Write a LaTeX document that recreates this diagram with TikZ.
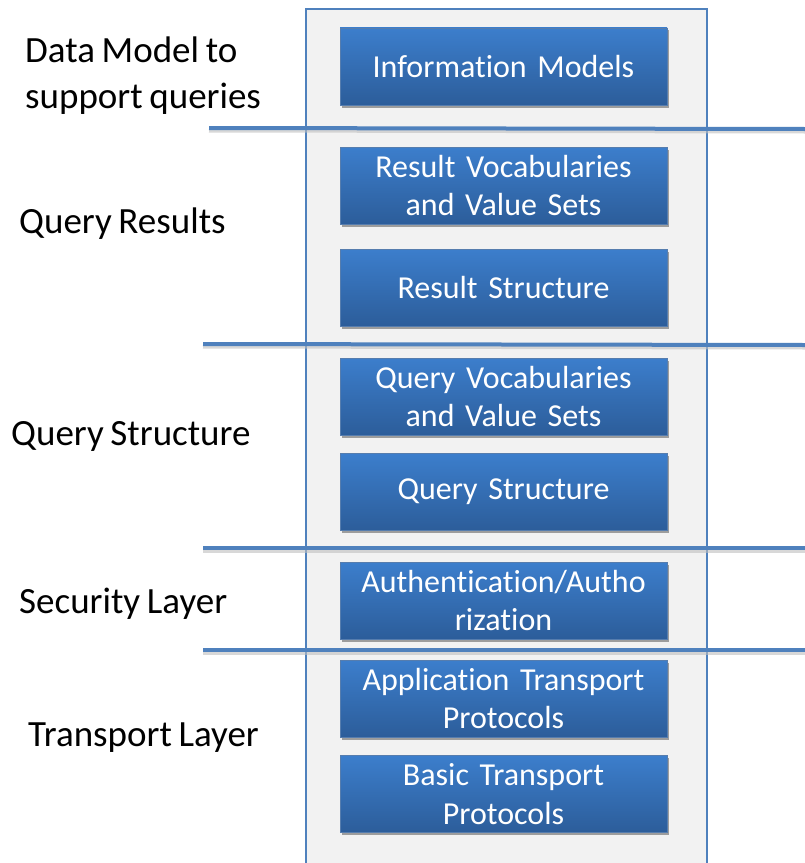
\documentclass[tikz,border=0pt]{standalone}
\usepackage{fontspec}
\setmainfont{Carlito}[Ligatures=NoCommon, WordSpace=0.8]
\usetikzlibrary{shadows}
\definecolor{edgeblue}{HTML}{4F81BD}
\definecolor{boxtop}{HTML}{3C7ECC}
\definecolor{boxbot}{HTML}{2C5D9A}
\definecolor{panel}{HTML}{F2F2F2}
\tikzset{
  layerbox/.style={minimum width=327bp, minimum height=77bp, inner sep=0pt,
    top color=boxtop, bottom color=boxbot, draw=boxbot!80!white, line width=0.6bp,
    text=white, align=center, text width=325bp,
    font=\fontsize{32bp}{38.5bp}\selectfont,
    drop shadow={shadow xshift=1.5bp, shadow yshift=-2.5bp, opacity=0.35, fill=black}},
  layerlabel/.style={anchor=west, inner sep=0pt, align=left, text=black,
    font=\fontsize{37bp}{46bp}\selectfont},
  sepline/.style={draw=edgeblue, line width=4bp},
  sepshadow/.style={draw=black!25, line width=4bp, opacity=0.6}
}
\begin{document}
\begin{tikzpicture}[x=1bp,y=-1bp]
\useasboundingbox (0,0) rectangle (805,863);
\fill[white] (0,0) rectangle (805,863);
% panel
\fill[panel] (306,9) rectangle (707,863);
\draw[edgeblue, line width=1.6bp] (306,863) -- (306,9) -- (707,9) -- (707,863);
% separators
\coordinate (s1a) at (209,128); \coordinate (s1b) at (805,129);
\coordinate (s2a) at (203,344); \coordinate (s2b) at (805,345);
\coordinate (s3a) at (203,548); \coordinate (s3b) at (805,548);
\coordinate (s4a) at (203,650); \coordinate (s4b) at (805,650);
\draw[sepshadow] ([yshift=-2.5bp]s1a) -- ([yshift=-2.5bp]s1b);
\draw[sepshadow] ([yshift=-2.5bp]s2a) -- ([yshift=-2.5bp]s2b);
\draw[sepshadow] ([yshift=-2.5bp]s3a) -- ([yshift=-2.5bp]s3b);
\draw[sepshadow] ([yshift=-2.5bp]s4a) -- ([yshift=-2.5bp]s4b);
\draw[sepline] (s1a) -- (s1b);
\draw[sepline] (s2a) -- (s2b);
\draw[sepline] (s3a) -- (s3b);
\draw[sepline] (s4a) -- (s4b);
% boxes
\node[layerbox] (b1) at (503.5,66.5) {Information Models};
\node[layerbox] (b2) at (503.5,185.5) {Result Vocabularies\\and Value Sets};
\node[layerbox] (b3) at (503.5,287.5) {Result Structure};
\node[layerbox] (b4) at (503.5,396.5) {Query Vocabularies\\and Value Sets};
\node[layerbox] (b5) at (503.5,492) {Query Structure};
\node[layerbox] (b6) at (503.5,600.5) {Authentication/Autho\\rization};
\node[layerbox] (b7) at (503.5,698.5) {Application Transport\\Protocols};
\node[layerbox] (b8) at (503.5,794) {Basic Transport\\Protocols};
% labels
\node[layerlabel] (l1) at (25,76) {Data Model to\\support queries};
\node[layerlabel] (l2) at (19,224) {Query Results};
\node[layerlabel] (l3) at (11,436) {Query Structure};
\node[layerlabel] (l4) at (19,604) {Security Layer};
\node[layerlabel] (l5) at (28,738) {Transport Layer};
\end{tikzpicture}
\end{document}
